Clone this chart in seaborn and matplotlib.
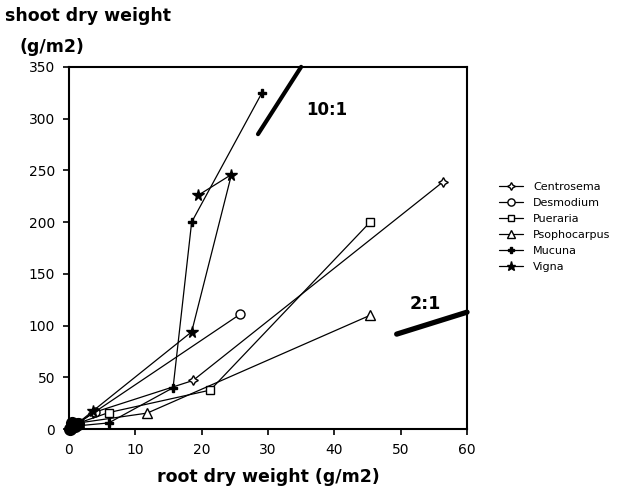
import matplotlib
matplotlib.use("Agg")
import matplotlib.pyplot as plt
import seaborn as sns
import pandas as pd

# ---- data ----
species = ["Centrosema", "Desmodium", "Pueraria", "Psophocarpus", "Mucuna", "Vigna"]
centrosema_x = [0.3, 1.2, 3.7, 18.7, 56.4]
centrosema_y = [1.0, 5.0, 16.0, 47.0, 239.0]
desmodium_x = [0.3, 1.2, 4.0, 25.8]
desmodium_y = [1.0, 5.0, 17.0, 111.0]
pueraria_x = [0.3, 1.5, 6.0, 21.3, 45.4]
pueraria_y = [1.0, 6.0, 16.0, 37.7, 200.0]
psophocarpus_x = [0.3, 1.5, 11.8, 45.4]
psophocarpus_y = [1.0, 6.0, 15.5, 110.0]
mucuna_x = [0.3, 1.0, 6.0, 15.7, 18.5, 29.1]
mucuna_y = [1.0, 3.0, 6.0, 40.0, 200.0, 325.0]
vigna_x = [0.3, 1.0, 3.7, 18.5, 24.5, 19.5]
vigna_y = [1.0, 4.0, 18.0, 94.0, 246.0, 226.0]
# overlapping early-harvest points that form the dark cluster at the origin
origin_x = [0.2, 0.5, 0.9, 1.3, 0.4]
origin_y = [0.5, 2.0, 3.5, 5.0, 6.0]
ratio_lines = {"10:1": (10.0, 0.0, 28.5, 35.0), "2:1": (2.0, -7.0, 49.4, 60.0)}
x_ticks = [0, 10, 20, 30, 40, 50, 60]
y_ticks = [0, 50, 100, 150, 200, 250, 300, 350]

series_x = [centrosema_x, desmodium_x, pueraria_x, psophocarpus_x, mucuna_x, vigna_x]
series_y = [centrosema_y, desmodium_y, pueraria_y, psophocarpus_y, mucuna_y, vigna_y]

rows = []
for name, xs, ys in zip(species, series_x, series_y):
    for i, (xv, yv) in enumerate(zip(xs, ys)):
        rows.append({"species": name, "order": i, "root": xv, "shoot": yv})
df = pd.DataFrame(rows)

sns.set_style("ticks")
plt.rcParams["font.family"] = ["DejaVu Sans"]
for k in ["text.color", "axes.labelcolor", "xtick.color", "ytick.color", "axes.edgecolor"]:
    plt.rcParams[k] = "black"

fig = plt.figure(figsize=(6.38, 4.99), dpi=100)
ax = fig.add_axes([0.108, 0.140, 0.624, 0.726])

styles = {
    "Centrosema": dict(marker=(4, 1, 0), markersize=7, markerfacecolor="white"),
    "Desmodium": dict(marker="o", markersize=6.5, markerfacecolor="white"),
    "Pueraria": dict(marker="s", markersize=6, markerfacecolor="white"),
    "Psophocarpus": dict(marker="^", markersize=6.5, markerfacecolor="white"),
    "Mucuna": dict(marker="P", markersize=6, markerfacecolor="black"),
    "Vigna": dict(marker="*", markersize=8.5, markerfacecolor="black"),
}

for name in species:
    sub = df[df["species"] == name].sort_values("order")
    st = styles[name]
    sns.lineplot(data=sub, x="root", y="shoot", sort=False, estimator=None,
                 ax=ax, color="black", linewidth=0.9, label=name,
                 marker=st["marker"], markersize=st["markersize"],
                 markerfacecolor=st["markerfacecolor"], markeredgecolor="black",
                 markeredgewidth=1.0)

sns.scatterplot(x=origin_x, y=origin_y, ax=ax, color="black", s=90,
                edgecolor="black", linewidth=0, legend=False, clip_on=False,
                zorder=5)

# ratio reference lines
for lab, (slope, icpt, x0, x1) in ratio_lines.items():
    ax.plot([x0, x1], [slope * x0 + icpt, slope * x1 + icpt], color="black",
            linewidth=3.8 if lab == "2:1" else 3.0, solid_capstyle="round",
            clip_on=False)
ax.text(35.8, 308, "10:1", fontsize=12, fontweight="bold", ha="left", va="center")
ax.text(53.7, 121, "2:1", fontsize=12.5, fontweight="bold", ha="center", va="center")

ax.set_xlim(0, 60)
ax.set_ylim(0, 350)
ax.set_xticks(x_ticks)
ax.set_yticks(y_ticks)
ax.tick_params(axis="both", direction="out", length=4, width=1.2, labelsize=10,
               pad=6, colors="black")
for sp in ax.spines.values():
    sp.set_visible(True)
    sp.set_linewidth(1.5)
    sp.set_color("black")

ax.set_xlabel("root dry weight (g/m2)", fontsize=12.5, fontweight="bold", labelpad=8)
ax.set_ylabel("")
fig.text(0.008, 0.968, "shoot dry weight", fontsize=12.5, fontweight="bold",
         ha="left", va="center")
fig.text(0.03, 0.905, "(g/m2)", fontsize=12.5, fontweight="bold",
         ha="left", va="center")

leg = ax.legend(loc="upper left", bbox_to_anchor=(0.775, 0.645),
                bbox_transform=fig.transFigure, frameon=False, fontsize=8,
                handlelength=2.2, handletextpad=0.9, labelspacing=0.55,
                markerscale=0.8, borderaxespad=0)

fig.savefig("out.png", dpi=100)
